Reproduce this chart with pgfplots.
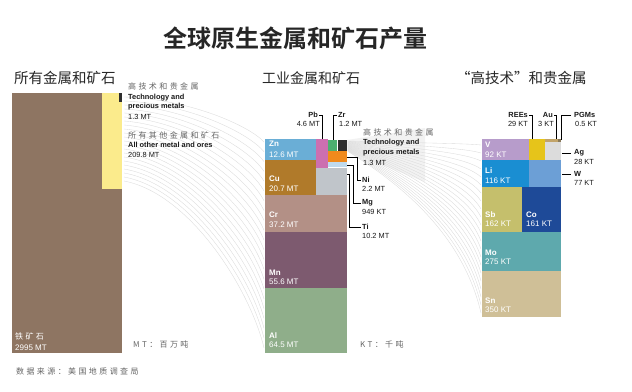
\documentclass[border=0pt]{standalone}
\usepackage{pgfplots}
\pgfplotsset{compat=1.18}
\usepackage{fontspec}
\setmainfont{Liberation Sans}
\newfontfamily\cjk{Noto Sans CJK SC}
\newfontfamily\cjkb{Noto Sans CJK SC Bold}
\newfontfamily\cjks{Noto Sans CJK SC}[LetterSpace=30]
\definecolor{fe}{HTML}{8E7562}
\definecolor{oth}{HTML}{FBEB8C}
\definecolor{tech}{HTML}{2E2E2E}
\definecolor{zn}{HTML}{6AAED6}
\definecolor{pb}{HTML}{CC6FB0}
\definecolor{zr}{HTML}{4CAF70}
\definecolor{ni}{HTML}{F08A1C}
\definecolor{mg}{HTML}{BFDAEE}
\definecolor{ti}{HTML}{C0C5CA}
\definecolor{cu}{HTML}{B07A2A}
\definecolor{cr}{HTML}{B39086}
\definecolor{mn}{HTML}{7D5A6F}
\definecolor{al}{HTML}{8FAE8A}
\definecolor{v}{HTML}{B79CCB}
\definecolor{ree}{HTML}{E6C41A}
\definecolor{au}{HTML}{C2A46A}
\definecolor{pgm}{HTML}{8A7A5A}
\definecolor{ag}{HTML}{DCDCDC}
\definecolor{li}{HTML}{1A8ED2}
\definecolor{w}{HTML}{6C9FD6}
\definecolor{sb}{HTML}{C5BF6C}
\definecolor{co}{HTML}{1E4A98}
\definecolor{mo}{HTML}{5EA9AD}
\definecolor{sn}{HTML}{CFBF97}
\tikzset{
 lab/.style={inner sep=0pt, font=\fontsize{7.4}{8}\selectfont, text=black!90},
 bl/.style={lab, font=\fontsize{7.4}{8}\selectfont\bfseries},
 wl/.style={inner sep=0pt, font=\fontsize{8}{9}\selectfont\bfseries, text=white, anchor=west},
 wv/.style={inner sep=0pt, font=\fontsize{8}{9}\selectfont, text=white!88, anchor=west},
 cs/.style={inner sep=0pt, font=\fontsize{8}{9}\selectfont\cjks, text=black!60, anchor=west},
 flow/.style={draw=gray!28, line width=0.35pt},
 conn/.style={draw=black, line width=0.8pt},
}
\newcommand{\blk}[5]{\addplot[draw=none,fill=#5] coordinates {(#1,#2) (#3,#2) (#3,#4) (#1,#4)} --cycle;}
\begin{document}
\begin{tikzpicture}
\begin{axis}[
 width=632pt, height=391pt, scale only axis,
 xmin=0, xmax=632, ymin=0, ymax=391, y dir=reverse,
 hide axis, clip=false,
]
% background (sets the picture's extent)
\blk{0}{0}{632}{391}{white}
% light wedge
\addplot[draw=none, fill=gray!10] coordinates {(347,140) (425,128) (425,182) (347,151)} --cycle;
% flow lines
\pgfplotsinvokeforeach{0,...,21}{
 \draw[flow] (axis cs:124,{97+4*#1}) .. controls (axis cs:190,{99+4.5*#1}) and (axis cs:250,{142+9.8*#1-0.35*(45+5.8*#1)}) .. (axis cs:264,{142+9.8*#1});
 \draw[flow] (axis cs:348,{141+0.5*#1}) .. controls (axis cs:420,{143+2.5*#1}) and (axis cs:466,{145+8*#1-0.4*(4+7.5*#1)}) .. (axis cs:481,{145+8*#1});
}
% ---- left panel
\blk{12}{93}{102}{353}{fe}
\blk{102}{189}{122}{353}{fe}
\blk{102}{93}{122}{189}{oth}
\blk{119}{93}{122}{102}{tech}
% ---- middle panel
\blk{265}{139}{316}{160}{zn}
\blk{265}{160}{316}{195}{cu}
\blk{316}{139}{328}{168}{pb}
\blk{328}{140}{337}{151}{zr}
\blk{338}{140}{347}{151}{tech}
\blk{328}{151}{347}{162}{ni}
\blk{328}{162}{347}{167}{mg}
\blk{316}{168}{347}{195}{ti}
\blk{265}{195}{347}{232}{cr}
\blk{265}{232}{347}{288}{mn}
\blk{265}{288}{347}{353}{al}
% ---- right panel
\blk{482}{139}{529}{160}{v}
\blk{529}{139}{545}{160}{ree}
\blk{545}{139}{558}{142}{au}
\blk{558}{139}{561}{142}{pgm}
\blk{545}{142}{561}{160}{ag}
\blk{482}{160}{529}{187}{li}
\blk{529}{160}{561}{187}{w}
\blk{482}{187}{522}{232}{sb}
\blk{522}{187}{561}{232}{co}
\blk{482}{232}{561}{271}{mo}
\blk{482}{271}{561}{317}{sn}
% connectors
\addplot[conn] coordinates {(319,115) (322,115) (322,139)};
\addplot[conn] coordinates {(337,115) (333,115) (333,140)};
\addplot[conn] coordinates {(347,157) (357,157) (357,180) (361,180)};
\addplot[conn] coordinates {(347,165) (353,165) (353,203) (361,203)};
\addplot[conn] coordinates {(347,174) (349.5,174) (349.5,227) (361,227)};
\addplot[conn] coordinates {(529,115) (532,115) (532,139)};
\addplot[conn] coordinates {(554,115) (556,115) (556,139)};
\addplot[conn] coordinates {(571,115) (561.5,115) (561.5,140)};
\addplot[conn] coordinates {(562,153) (571,153)};
\addplot[conn] coordinates {(562,174) (571,174)};
% ---- titles
\node[anchor=center, inner sep=0pt, font=\fontsize{24}{26}\selectfont\cjkb, text=black!85] at (axis cs:295,38) {全球原生金属和矿石产量};
\node[anchor=west, inner sep=0pt, font=\fontsize{14.5}{16}\selectfont\cjk, text=black!85] at (axis cs:14,78) {所有金属和矿石};
\node[anchor=west, inner sep=0pt, font=\fontsize{14}{16}\selectfont\cjk, text=black!85] at (axis cs:262,78) {工业金属和矿石};
\node[anchor=west, inner sep=0pt, font=\fontsize{14.5}{16}\selectfont\cjk, text=black!85] at (axis cs:456,78) {“高技术”和贵金属};
% ---- left labels
\node[cs] at (axis cs:128,86) {高技术和贵金属};
\node[bl, anchor=west] at (axis cs:128,98) {Technology and};
\node[bl, anchor=west] at (axis cs:128,107) {precious metals};
\node[lab, anchor=west] at (axis cs:128,117) {1.3 MT};
\node[cs] at (axis cs:128,135) {所有其他金属和矿石};
\node[bl, anchor=west] at (axis cs:128,145) {All other metal and ores};
\node[lab, anchor=west] at (axis cs:128,155) {209.8 MT};
\node[inner sep=0pt, anchor=west, font=\fontsize{8}{9}\selectfont\cjks, text=white] at (axis cs:15,336) {铁矿石};
\node[wv] at (axis cs:15,348) {2995 MT};
\node[cs] at (axis cs:133,344) {MT：百万吨};
\node[cs] at (axis cs:16,371) {数据来源：美国地质调查局};
% ---- middle labels
\node[bl, anchor=east] at (axis cs:318,115) {Pb};
\node[lab, anchor=east] at (axis cs:320,124) {4.6 MT};
\node[bl, anchor=west] at (axis cs:338,115) {Zr};
\node[lab, anchor=west] at (axis cs:339,124) {1.2 MT};
\node[cs] at (axis cs:363,132) {高技术和贵金属};
\node[bl, anchor=west] at (axis cs:363,143) {Technology and};
\node[bl, anchor=west] at (axis cs:363,153) {precious metals};
\node[lab, anchor=west] at (axis cs:363,163) {1.3 MT};
\node[bl, anchor=west] at (axis cs:362,180) {Ni};
\node[lab, anchor=west] at (axis cs:362,189) {2.2 MT};
\node[bl, anchor=west] at (axis cs:362,203) {Mg};
\node[lab, anchor=west] at (axis cs:362,212) {949 KT};
\node[bl, anchor=west] at (axis cs:362,227) {Ti};
\node[lab, anchor=west] at (axis cs:362,236) {10.2 MT};
\node[cs] at (axis cs:360,344) {KT：千吨};
\node[wl] at (axis cs:269,144) {Zn};
\node[wv] at (axis cs:269,155) {12.6 MT};
\node[wl] at (axis cs:269,179) {Cu};
\node[wv] at (axis cs:269,189) {20.7 MT};
\node[wl] at (axis cs:269,215) {Cr};
\node[wv] at (axis cs:269,225) {37.2 MT};
\node[wl] at (axis cs:269,273) {Mn};
\node[wv] at (axis cs:269,282) {55.6 MT};
\node[wl] at (axis cs:269,336) {Al};
\node[wv] at (axis cs:269,345) {64.5 MT};
% ---- right labels
\node[bl, anchor=east] at (axis cs:528,115) {REEs};
\node[lab, anchor=east] at (axis cs:528,124) {29 KT};
\node[bl, anchor=east] at (axis cs:553,115) {Au};
\node[lab, anchor=east] at (axis cs:554,124) {3 KT};
\node[bl, anchor=west] at (axis cs:574,115) {PGMs};
\node[lab, anchor=west] at (axis cs:575,124) {0.5 KT};
\node[bl, anchor=west] at (axis cs:574,153) {Ag};
\node[lab, anchor=west] at (axis cs:574,162) {28 KT};
\node[bl, anchor=west] at (axis cs:574,174) {W};
\node[lab, anchor=west] at (axis cs:574,183) {77 KT};
\node[wl] at (axis cs:485,145) {V};
\node[wv] at (axis cs:485,155) {92 KT};
\node[wl] at (axis cs:485,171) {Li};
\node[wv] at (axis cs:485,181) {116 KT};
\node[wl] at (axis cs:485,215) {Sb};
\node[wv] at (axis cs:485,224) {162 KT};
\node[wl] at (axis cs:526,215) {Co};
\node[wv] at (axis cs:526,224) {161 KT};
\node[wl] at (axis cs:485,253) {Mo};
\node[wv] at (axis cs:485,262) {275 KT};
\node[wl] at (axis cs:485,301) {Sn};
\node[wv] at (axis cs:485,310) {350 KT};
\end{axis}
\end{tikzpicture}
\end{document}
